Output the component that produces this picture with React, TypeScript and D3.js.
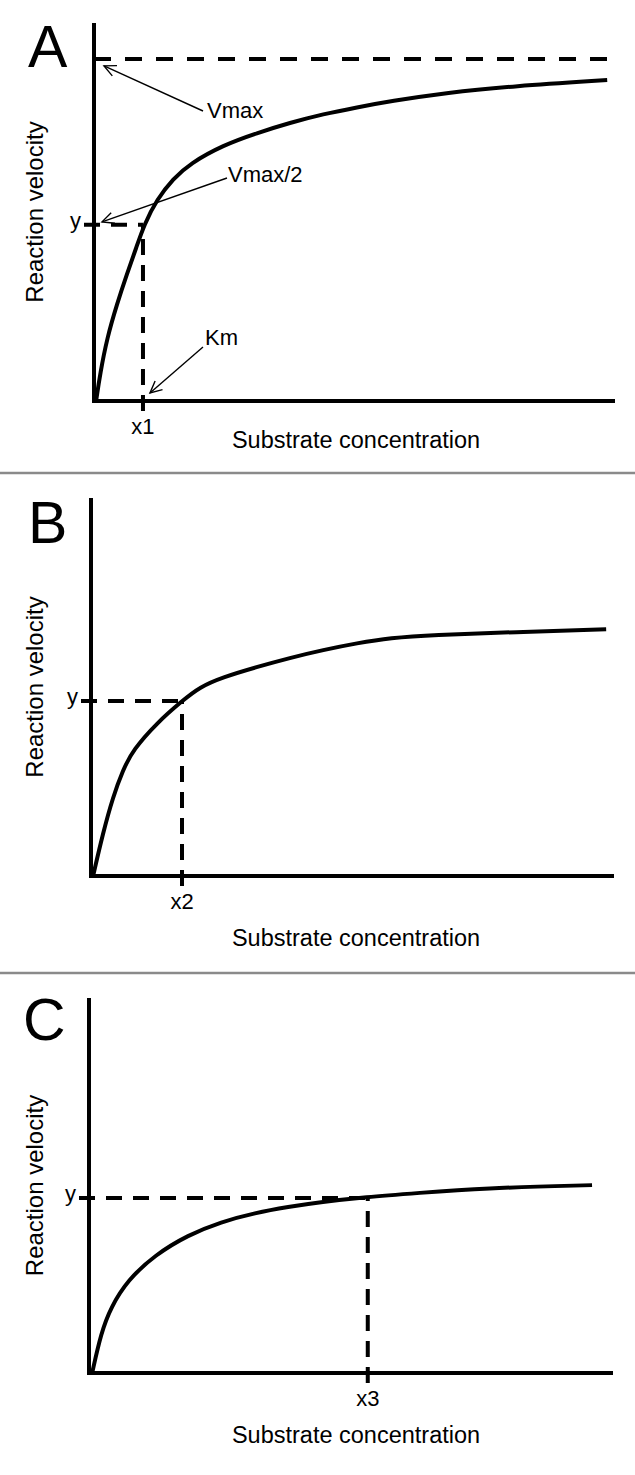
import React from "react";
import * as d3 from "d3";

// values, in arbitrary units (0-100 on both axes)
const panelLetters = ["A", "B", "C"];
const xLabels = ["x1", "x2", "x3"];

const substrateA = [0.4, 1.2, 2.5, 4.4, 6.3, 8.1, 9.6, 12.1, 15.2, 18.4, 24.8, 31.3, 37.6, 44.0, 50.5, 56.8, 67.8, 80.4, 98.5];
const velocityA = [0, 7.4, 16.6, 25.6, 33.5, 40.5, 46.6, 53.4, 58.8, 62.8, 67.7, 70.9, 73.6, 75.9, 77.7, 79.3, 81.6, 83.3, 84.9];

const substrateB = [0.4, 2.3, 4.2, 6.1, 8.0, 12.6, 17.4, 20.8, 25.2, 31.7, 38.0, 44.4, 50.9, 57.2, 65.2, 81.1, 98.5];
const velocityB = [0, 11.4, 20.9, 28.0, 33.3, 40.5, 46.3, 50.0, 52.6, 55.3, 57.7, 59.8, 61.6, 63.0, 63.8, 64.5, 65.3];

const substrateC = [0.6, 2.3, 4.2, 7.4, 12.6, 18.9, 25.2, 31.7, 38.0, 44.3, 52.7, 62.8, 75.0, 96.0];
const velocityC = [0, 10.7, 17.6, 24.8, 31.5, 36.8, 40.3, 42.7, 44.3, 45.6, 46.9, 48.0, 49.3, 50.1];

const markX = [9.4, 17.4, 53.2];
const markY = [46.6, 46.3, 46.7];
const vmaxA = 90.5;
const vmaxEndA = 98.5;

// layout of the three panels (pixels)
const layouts = [
  { x0: 94, x1: 615, yb: 401, yt: 23, titleY: 448, letterX: 28, letterY: 67 },
  { x0: 91, x1: 614, yb: 876, yt: 498, titleY: 946, letterX: 28, letterY: 543 },
  { x0: 89, x1: 613, yb: 1373, yt: 998, titleY: 1443, letterX: 23, letterY: 1040 },
];
const separators = [473, 973];

const font = "'Liberation Sans', Arial, sans-serif";

const arrow = (tail: [number, number], tip: [number, number], key: string) => {
  const ang = Math.atan2(tip[1] - tail[1], tip[0] - tail[0]);
  const len = 13;
  const spread = 0.45;
  const h1 = [tip[0] - len * Math.cos(ang - spread), tip[1] - len * Math.sin(ang - spread)];
  const h2 = [tip[0] - len * Math.cos(ang + spread), tip[1] - len * Math.sin(ang + spread)];
  return (
    <g key={key} stroke="#000" strokeWidth={1.4} fill="none">
      <line x1={tail[0]} y1={tail[1]} x2={tip[0]} y2={tip[1]} />
      <polyline points={`${h1[0]},${h1[1]} ${tip[0]},${tip[1]} ${h2[0]},${h2[1]}`} />
    </g>
  );
};

const Panel = ({ i }: { i: number }) => {
  const L = layouts[i];
  const x = d3.scaleLinear().domain([0, 100]).range([L.x0, L.x1]);
  const y = d3.scaleLinear().domain([0, 100]).range([L.yb, L.yt]);
  const sx = [substrateA, substrateB, substrateC][i];
  const vy = [velocityA, velocityB, velocityC][i];
  const pts = sx.map((s, k) => [s, vy[k]] as [number, number]);
  const line = d3
    .line<[number, number]>()
    .x(d => x(d[0]))
    .y(d => y(d[1]))
    .curve(d3.curveBasis);

  const mx = x(markX[i]);
  const my = y(markY[i]);

  return (
    <g>
      <text x={L.letterX} y={L.letterY} fontSize={59} fontFamily={font}>
        {panelLetters[i]}
      </text>

      {/* axes */}
      <line x1={x(0)} y1={L.yt} x2={x(0)} y2={L.yb + 2} stroke="#000" strokeWidth={4} />
      <line x1={x(0) - 2} y1={L.yb} x2={L.x1} y2={L.yb} stroke="#000" strokeWidth={4} />

      {i === 0 && (
        <line
          x1={x(0)}
          y1={y(vmaxA)}
          x2={x(vmaxEndA)}
          y2={y(vmaxA)}
          stroke="#000"
          strokeWidth={4}
          strokeDasharray="17,14"
        />
      )}

      {/* guide lines */}
      <line x1={x(0) - 10} y1={my} x2={mx} y2={my} stroke="#000" strokeWidth={4} strokeDasharray="16,11" />
      <line x1={mx} y1={L.yb + 10} x2={mx} y2={my} stroke="#000" strokeWidth={4} strokeDasharray="16,10" />

      <path d={line(pts) || ""} fill="none" stroke="#000" strokeWidth={4} />

      <text x={x(0) - 13} y={my + 3} fontSize={22} fontFamily={font} textAnchor="end">
        y
      </text>
      <text x={mx} y={L.yb + 33} fontSize={22} fontFamily={font} textAnchor="middle">
        {xLabels[i]}
      </text>
      <text x={356} y={L.titleY} fontSize={23.5} fontFamily={font} textAnchor="middle">
        Substrate concentration
      </text>
      <text
        transform={`translate(43,${(L.yt + L.yb) / 2}) rotate(-90)`}
        fontSize={24}
        fontFamily={font}
        textAnchor="middle"
      >
        Reaction velocity
      </text>

      {i === 0 && (
        <g fontSize={22} fontFamily={font}>
          <text x={207} y={118}>Vmax</text>
          <text x={228} y={182}>Vmax/2</text>
          <text x={205} y={345}>Km</text>
          {arrow([203, 111], [x(0) + 10, y(vmaxA) + 7], "a1")}
          {arrow([227, 178], [x(0) + 8, my - 3], "a2")}
          {arrow([203, 347], [mx + 7, L.yb - 8], "a3")}
        </g>
      )}
    </g>
  );
};

export default function App() {
  return (
    <div style={{ position: "absolute", left: 0, top: 0 }}>
      <svg width={635} height={1475} style={{ display: "block", background: "#fff" }}>
        <rect width={635} height={1475} fill="#fff" />
        {separators.map(s => (
          <line key={s} x1={0} y1={s} x2={635} y2={s} stroke="#8a8a8a" strokeWidth={2.5} />
        ))}
        {[0, 1, 2].map(i => (
          <Panel key={i} i={i} />
        ))}
      </svg>
    </div>
  );
}
